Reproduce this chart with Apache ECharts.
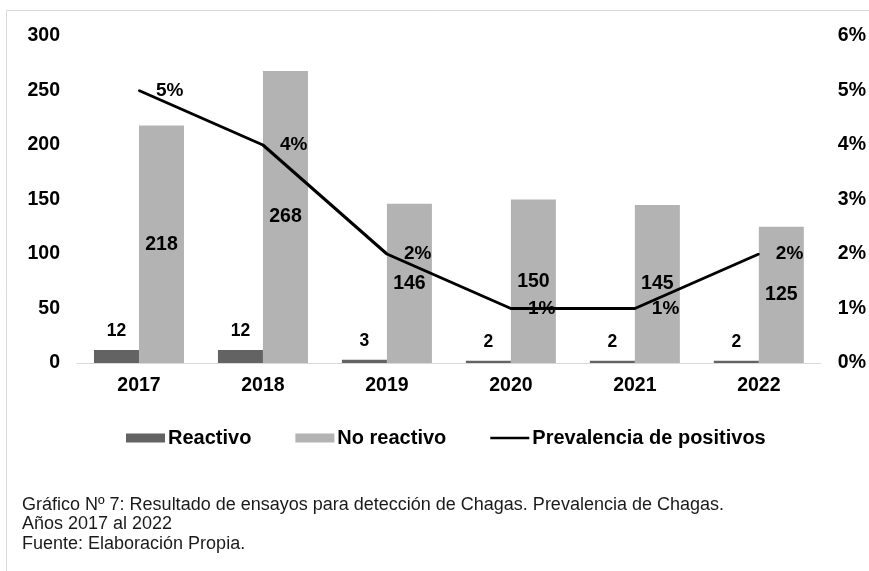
<!DOCTYPE html>
<html>
<head>
<meta charset="utf-8">
<script src="https://cdn.jsdelivr.net/npm/echarts@6/dist/echarts.min.js"></script>
<style>
html,body{margin:0;padding:0;background:#fff;}
#chart{width:869px;height:571px;}
</style>
</head>
<body>
<div id="chart"></div>
<script>
const categories = ['2017', '2018', '2019', '2020', '2021', '2022'];
const reactivo = [12, 12, 3, 2, 2, 2];
const noReactivo = [218, 268, 146, 150, 145, 125];
const prevalencia = [5, 4, 2, 1, 1, 2];
const leftTicks = [0, 50, 100, 150, 200, 250, 300];
const rightTicks = ['0%', '1%', '2%', '3%', '4%', '5%', '6%'];
const caption = 'Gráfico Nº 7: Resultado de ensayos para detección de Chagas. Prevalencia de Chagas.\nAños 2017 al 2022\nFuente: Elaboración Propia.';

const FONT = '"Liberation Sans", Arial, sans-serif';
const chart = echarts.init(document.getElementById('chart'), null, {renderer: 'canvas'});
chart.setOption({
  backgroundColor: '#ffffff',
  animation: false,
  textStyle: {fontFamily: FONT},
  graphic: [{
    type: 'rect',
    shape: {x: 6.5, y: 10.5, width: 900, height: 600},
    style: {fill: 'none', stroke: '#d9d9d9', lineWidth: 1},
    silent: true, z: -10
  }],
  title: {
    text: caption,
    left: 22, top: 495, padding: 0,
    textStyle: {fontFamily: FONT, fontSize: 18, fontWeight: 'normal', color: '#1a1a1a', lineHeight: 19.5}
  },
  legend: {
    left: 121, top: 423,
    itemWidth: 39, itemHeight: 9, itemGap: 44,
    textStyle: {fontFamily: FONT, fontSize: 20, fontWeight: 'bold', color: '#000', padding: [0, 0, 0, -2]},
    data: [
      {name: 'Reactivo', icon: 'rect'},
      {name: 'No reactivo', icon: 'rect'},
      {name: 'Prevalencia de positivos', icon: 'path://M0,0M0,3.2L40,3.2L40,5.8L0,5.8ZM40,9'}
    ]
  },
  grid: {left: 77, right: 48, top: 36, bottom: 208, containLabel: false},
  xAxis: {
    type: 'category',
    data: categories,
    axisLine: {show: true, lineStyle: {color: '#d9d9d9', width: 1}},
    axisTick: {show: false},
    axisLabel: {margin: 13, fontFamily: FONT, fontSize: 19.5, fontWeight: 'bold', color: '#000'}
  },
  yAxis: [{
    type: 'value', min: 0, max: 300, interval: 50,
    axisLine: {show: false}, axisTick: {show: false}, splitLine: {show: false},
    axisLabel: {margin: 17, fontFamily: FONT, fontSize: 19.5, fontWeight: 'bold', color: '#000',
      formatter: v => String(leftTicks[Math.round(v / 50)])}
  }, {
    type: 'value', min: 0, max: 6, interval: 1, position: 'right',
    axisLine: {show: false}, axisTick: {show: false}, splitLine: {show: false},
    axisLabel: {margin: 17, fontFamily: FONT, fontSize: 19.5, fontWeight: 'bold', color: '#000',
      formatter: v => rightTicks[Math.round(v)]}
  }],
  series: [{
    name: 'Reactivo', type: 'bar', data: reactivo,
    barWidth: 45, barGap: '0%',
    itemStyle: {color: '#636363'},
    label: {show: true, position: 'top', distance: 10, fontFamily: FONT, fontSize: 17.5, fontWeight: 'bold', color: '#000'}
  }, {
    name: 'No reactivo', type: 'bar', data: noReactivo,
    barWidth: 45,
    itemStyle: {color: '#b3b3b3'},
    label: {show: true, position: 'inside', fontFamily: FONT, fontSize: 19.5, fontWeight: 'bold', color: '#000'}
  }, {
    name: 'Prevalencia de positivos', type: 'line', yAxisIndex: 1, data: prevalencia,
    symbol: 'circle', symbolSize: 2, showSymbol: true, z: 5,
    lineStyle: {color: '#000', width: 3},
    itemStyle: {color: '#000'},
    label: {show: true, position: 'right', distance: 16, formatter: p => p.value + '%',
      fontFamily: FONT, fontSize: 19, fontWeight: 'bold', color: '#000'}
  }]
});
</script>
</body>
</html>
